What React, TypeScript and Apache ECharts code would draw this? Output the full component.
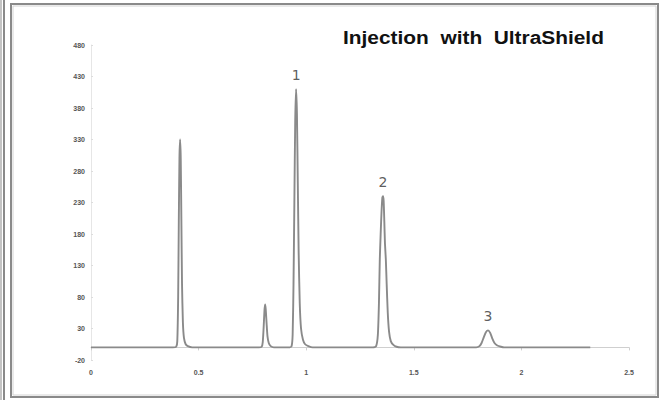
import React, { useEffect, useRef } from "react";
import * as echarts from "echarts";

// Chromatogram trace: [retention time, signal]
const baselineStart: [number, number][] = [[0, 0], [0.2, 0], [0.38, 0]];
const peakA: [number, number][] = [
  [0.396, 1], [0.401, 10], [0.405, 80], [0.408, 200], [0.411, 300], [0.414, 330],
  [0.417, 300], [0.42, 200], [0.423, 100], [0.427, 40], [0.432, 15], [0.44, 5], [0.45, 2], [0.47, 0],
];
const peakSmall: [number, number][] = [
  [0.6, 0], [0.78, 0], [0.793, 1], [0.798, 8], [0.802, 30], [0.806, 58], [0.809, 68], [0.812, 60],
  [0.816, 38], [0.82, 18], [0.826, 7], [0.835, 2], [0.85, 0],
];
const peak1: [number, number][] = [
  [0.92, 0], [0.932, 2], [0.937, 20], [0.941, 100], [0.945, 230], [0.949, 360], [0.953, 410],
  [0.957, 370], [0.961, 260], [0.965, 150], [0.97, 70], [0.976, 30], [0.985, 12], [0.995, 5],
  [1.01, 2], [1.03, 0],
];
const peak2: [number, number][] = [
  [1.2, 0], [1.31, 0], [1.325, 2], [1.333, 20], [1.338, 70], [1.342, 140], [1.346, 180], [1.35, 215],
  [1.354, 238], [1.357, 240], [1.36, 232], [1.363, 200], [1.366, 165], [1.37, 140], [1.374, 100],
  [1.379, 55], [1.385, 25], [1.393, 10], [1.405, 4], [1.42, 1], [1.44, 0],
];
const peak3: [number, number][] = [
  [1.6, 0], [1.79, 0], [1.805, 2], [1.815, 7], [1.825, 16], [1.835, 24], [1.845, 27], [1.855, 23],
  [1.865, 14], [1.875, 7], [1.888, 3], [1.905, 1], [1.92, 0], [2.1, 0], [2.32, 0],
];

const peakLabels = ["1", "2", "3"];
const peakLabelPos: [number, number][] = [[0.953, 410], [1.357, 240], [1.845, 27]];

const titleText = "Injection  with  UltraShield";

const yMin = -20;
const yMax = 480;
const yStep = 50;
const xMin = 0;
const xMax = 2.5;
const xStep = 0.5;

export default function App() {
  const ref = useRef<HTMLDivElement>(null);

  useEffect(() => {
    document.body.style.margin = "0";
    if (!ref.current) return;
    const chart = echarts.init(ref.current, undefined, { renderer: "svg" });
    const trace = [...baselineStart, ...peakA, ...peakSmall, ...peak1, ...peak2, ...peak3];

    chart.setOption({
      animation: false,
      backgroundColor: "#ffffff",
      grid: { left: 91, right: 34, top: 45, bottom: 40 },
      xAxis: {
        type: "value",
        min: xMin,
        max: xMax,
        interval: xStep,
        axisLine: { onZero: true, lineStyle: { color: "#cfcfcf", width: 1 } },
        axisTick: { show: true, length: 3, lineStyle: { color: "#cfcfcf" } },
        splitLine: { show: false },
        axisLabel: {
          fontSize: 7,
          color: "#555",
          fontWeight: "bold",
          fontFamily: "Arial, sans-serif",
          margin: 9,
        },
      },
      yAxis: {
        type: "value",
        min: yMin,
        max: yMax,
        interval: yStep,
        axisLine: { show: true, onZero: false, lineStyle: { color: "#e6e6e6", width: 1 } },
        axisTick: { show: true, inside: true, length: 2, lineStyle: { color: "#dddddd" } },
        splitLine: { show: false },
        axisLabel: {
          fontSize: 7,
          color: "#555",
          fontWeight: "bold",
          fontFamily: "Arial, sans-serif",
          margin: 6,
        },
      },
      series: [
        {
          type: "line",
          data: trace,
          showSymbol: false,
          smooth: 0.2,
          lineStyle: { color: "#8a8a8a", width: 1.9 },
          z: 3,
        },
        {
          type: "scatter",
          data: peakLabelPos.map((p, i) => ({ value: p, name: peakLabels[i] })),
          symbolSize: 0,
          label: {
            show: true,
            position: "top",
            distance: 7,
            formatter: (p: any) => p.name,
            fontFamily: "DejaVu Sans, sans-serif",
            fontSize: 14,
            color: "#333",
          },
          silent: true,
          z: 4,
        },
      ],
      graphic: [
        { type: "rect", shape: { x: 0, y: 0, width: 2, height: 400 }, style: { fill: "#c4c4c4" }, silent: true },
        { type: "rect", shape: { x: 3, y: 0, width: 2, height: 400 }, style: { fill: "#8a8a8a" }, silent: true },
        {
          type: "rect",
          shape: { x: 11, y: 4, width: 647, height: 393 },
          style: { fill: "none", stroke: "#8a8a8a", lineWidth: 2 },
          silent: true,
        },
        {
          type: "rect",
          shape: { x: 13, y: 6, width: 643, height: 389 },
          style: { fill: "none", stroke: "#d4d4d4", lineWidth: 1 },
          silent: true,
        },
        {
          type: "text",
          x: 343,
          y: 37.5,
          scaleX: 1.16,
          style: {
            text: titleText,
            fontFamily: "Liberation Sans, Arial, sans-serif",
            fontWeight: "bold",
            fontSize: 18,
            fill: "#111",
            align: "left",
            verticalAlign: "middle",
          },
          silent: true,
        },
      ],
    });
    return () => chart.dispose();
  }, []);

  return <div ref={ref} style={{ width: 663, height: 400 }} />;
}
